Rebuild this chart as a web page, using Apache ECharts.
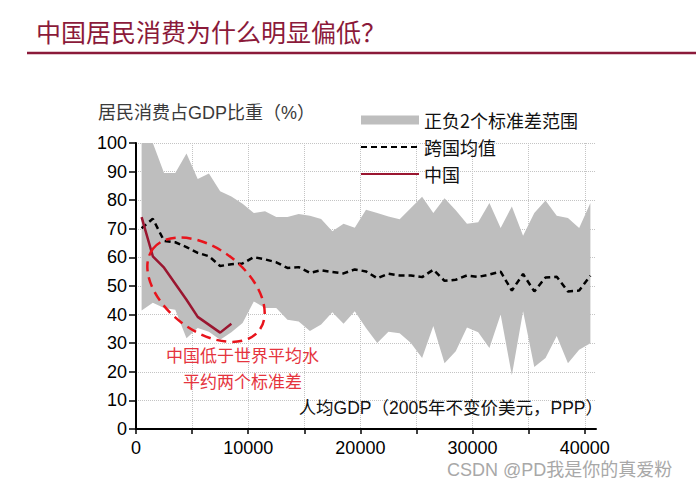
<!DOCTYPE html>
<html><head><meta charset="utf-8">
<script src="https://cdn.jsdelivr.net/npm/echarts@6/dist/echarts.min.js"></script>
<style>html,body{margin:0;padding:0;background:#fff}#c{width:696px;height:490px}</style>
</head><body><div id="c"></div>
<script>
// 人均GDP（2005年不变价美元，PPP）
const gdp = [500,1500,2500,3500,4500,5500,6500,7500,8500,9500,10500,11500,12500,13500,14500,15500,16500,17500,18500,19500,20500,21500,22500,23500,24500,25500,26500,27500,28500,29500,30500,31500,32500,33500,34500,35500,36500,37500,38500,39500,40500];
// 正负2个标准差范围：上界与下界
const upper = [100,100,89.5,89.5,96.3,87.4,89.3,83.1,81.3,78.8,75.5,76.1,74.1,74.1,75.2,74.6,73.4,69.1,71.8,70.4,76.7,75.5,74.3,73.3,77.3,81.2,75.5,80.7,76.5,71.8,72.3,79.0,70.3,77.8,67.6,75.5,79.9,74.6,73.8,70.3,79.0];
const lower = [41.4,44.1,42.3,41.7,31.7,35.3,34.0,31.2,33.8,37.1,44.6,42.3,42.3,38.2,37.6,34.3,36.5,40.8,36.8,41.2,35.3,30.1,34.0,33.5,30.1,24.8,36.0,23.0,27.2,35.5,33.8,28.3,40.0,18.8,41.2,21.7,24.8,32.5,23.0,27.7,30.0];
// 跨国均值
const mean = [70.2,73.5,65.8,65.3,63.6,61.6,60.4,57.0,57.6,57.9,60.1,59.3,58.3,56.3,56.6,54.6,55.5,54.9,54.4,55.8,55.1,52.7,54.3,53.7,53.7,53.1,55.7,51.8,52.2,53.7,53.2,54.0,55.0,48.4,54.2,48.1,53.0,53.2,48.1,48.4,53.6];
// 中国
const chinaGdp = [500,1500,2500,3500,4500,5500,7500,8500];
const china = [74.1,60.4,56.4,50.8,45.2,39.2,33.7,36.8];
// 刻度
const xTickValues = [0,5000,10000,15000,20000,25000,30000,35000,40000];
const xLabelValues = [0,10000,20000,30000,40000];

const FONT = "'Liberation Sans','Noto Sans CJK SC',sans-serif";
const CJK = "'Noto Sans CJK SC','Liberation Sans',sans-serif";

const chart = echarts.init(document.getElementById('c'), null, {renderer: 'svg'});

const pair = (xs, ys) => xs.map((x, i) => [x, ys[i]]);

const option = {
  animation: false,
  backgroundColor: '#fff',
  grid: {left: 136, right: 100, top: 143, bottom: 61, containLabel: false},
  xAxis: {
    type: 'value', min: 0, max: 41000, interval: 5000,
    axisLine: {show: true, lineStyle: {color: '#000', width: 2}},
    axisTick: {show: true, inside: false, length: 5, lineStyle: {color: '#000', width: 1.5}, customValues: xTickValues},
    axisLabel: {show: true, customValues: xLabelValues, formatter: v => String(v), color: '#000', fontSize: 18, fontFamily: FONT, margin: 10},
    splitLine: {show: true, lineStyle: {type: 'dotted', color: '#c4c4c4', width: 1}}
  },
  yAxis: {
    type: 'value', min: 0, max: 100, interval: 10,
    axisLine: {show: true, lineStyle: {color: '#000', width: 2}},
    axisTick: {show: true, inside: false, length: 7, lineStyle: {color: '#000', width: 1.5}},
    axisLabel: {color: '#000', fontSize: 18, fontFamily: FONT, margin: 9, formatter: v => String(v)},
    splitLine: {show: true, lineStyle: {type: 'dotted', color: '#c4c4c4', width: 1}}
  },
  legend: {
    orient: 'vertical', left: 360, top: 111, padding: 0, itemGap: 9,
    itemWidth: 58, itemHeight: 9,
    textStyle: {fontSize: 18, color: '#111', fontFamily: CJK},
    data: [
      {name: '正负2个标准差范围', icon: 'rect', itemStyle: {color: '#BEBEBE', borderWidth: 0}},
      {name: '跨国均值', itemStyle: {opacity: 0}},
      {name: '中国', itemStyle: {opacity: 0}}
    ]
  },
  series: [
    {
      name: '正负2个标准差范围', type: 'custom', silent: true, z: 1,
      itemStyle: {color: '#BEBEBE'},
      data: [[gdp[0], upper[0]]],
      renderItem: function (params, api) {
        const top = gdp.map((x, i) => api.coord([x, upper[i]]));
        const bottom = gdp.map((x, i) => api.coord([x, lower[i]])).reverse();
        return {type: 'polygon', shape: {points: top.concat(bottom)}, style: {fill: '#BEBEBE', stroke: null}};
      }
    },
    {
      name: '跨国均值', type: 'line', symbol: 'none', data: pair(gdp, mean),
      color: '#000', lineStyle: {color: '#000', width: 2.5, type: [6, 4]}, z: 3
    },
    {
      name: '中国', type: 'line', symbol: 'none', data: pair(chinaGdp, china),
      color: '#9A1630', lineStyle: {color: '#9A1630', width: 2.5}, z: 4
    }
  ]
};
chart.setOption(option);

// 注释：椭圆圈出中国所在区域（以数据坐标定位）
const ellipseCenter = chart.convertToPixel({gridIndex: 0}, [6240, 48.7]);
const note1 = chart.convertToPixel({gridIndex: 0}, [9490, 26.0]);
const note2 = chart.convertToPixel({gridIndex: 0}, [9490, 17.0]);

chart.setOption({
  graphic: [
    {type: 'text', x: 36, y: 31, z: 100,
      style: {text: '中国居民消费为什么明显偏低？', font: "25px " + CJK, fill: '#8B1A3A', textVerticalAlign: 'middle', textAlign: 'left'}},
    {type: 'line', z: 100, shape: {x1: 27, y1: 53, x2: 696, y2: 53}, style: {stroke: '#8B1A3A', lineWidth: 2.5}},
    {type: 'text', x: 98, y: 113, z: 100,
      style: {text: '居民消费占GDP比重（%）', font: "18px " + FONT, fill: '#3a3a3a', textVerticalAlign: 'middle', textAlign: 'left'}},
    {type: 'text', x: 603, y: 408, z: 100,
      style: {text: '人均GDP（2005年不变价美元，PPP）', font: "17.5px " + FONT, fill: '#111', textVerticalAlign: 'middle', textAlign: 'right'}},
    {type: 'ellipse', x: ellipseCenter[0], y: ellipseCenter[1], rotation: -0.656, z: 90,
      shape: {cx: 0, cy: 0, rx: 67, ry: 41},
      style: {fill: 'none', stroke: '#E8141C', lineWidth: 2.5, lineDash: [10, 6]}},
    {type: 'text', x: note1[0], y: note1[1], z: 100,
      style: {text: '中国低于世界平均水', font: "17px " + CJK, lineHeight: 20, fill: '#E5343E', textAlign: 'center', textVerticalAlign: 'middle'}},
    {type: 'text', x: note2[0], y: note2[1], z: 100,
      style: {text: '平约两个标准差', font: "17px " + CJK, lineHeight: 20, fill: '#E5343E', textAlign: 'center', textVerticalAlign: 'middle'}},
    {type: 'text', x: 447, y: 470, z: 100,
      style: {text: 'CSDN @PD我是你的真爱粉', font: "18px " + FONT, fill: '#A8A8A8', textVerticalAlign: 'middle', textAlign: 'left'}}
  ]
});
</script></body></html>
